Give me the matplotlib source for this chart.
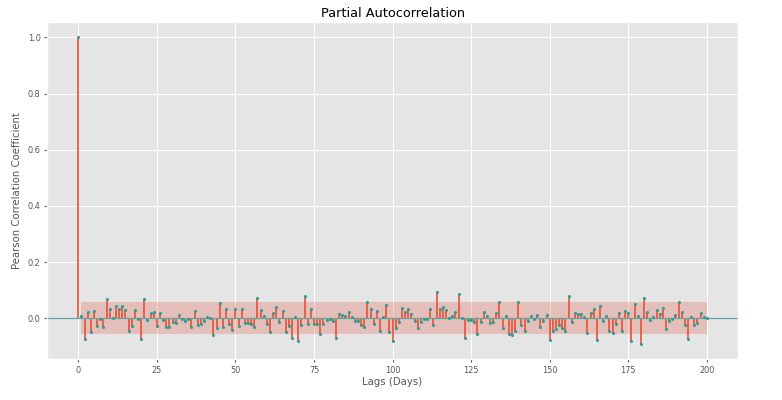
import numpy as np
import matplotlib
matplotlib.use('Agg')
import matplotlib.pyplot as plt

plt.style.use('ggplot')

# partial autocorrelation values, lags 0..200
pacf_vals = [
    1.000, 0.009, -0.073, 0.021, -0.050, 0.026, -0.028, -0.002, -0.032, 0.069,
    0.031, 0.001, 0.043, 0.033, 0.043, 0.030, -0.047, -0.028, 0.030, -0.002,
    -0.073, 0.069, -0.005, 0.019, 0.022, -0.029, 0.020, -0.005, -0.030, -0.032,
    -0.014, -0.018, 0.012, -0.002, -0.011, -0.004, -0.033, 0.027, -0.024, -0.019,
    -0.009, 0.005, 0.001, -0.061, -0.035, 0.054, -0.032, 0.031, -0.019, -0.042,
    0.032, -0.027, 0.033, -0.017, -0.017, -0.021, -0.033, 0.071, 0.030, 0.009,
    -0.019, -0.050, 0.020, 0.039, -0.012, 0.025, -0.050, -0.028, -0.071, 0.004,
    -0.080, -0.026, 0.079, -0.019, 0.031, -0.022, -0.022, -0.058, -0.022, -0.008,
    -0.004, -0.011, -0.071, 0.015, 0.012, 0.007, 0.021, 0.004, -0.011, -0.011,
    -0.026, -0.030, 0.057, 0.031, -0.021, 0.026, -0.045, 0.004, 0.048, -0.051,
    -0.082, -0.034, -0.014, 0.035, 0.021, 0.031, 0.014, -0.011, -0.034, -0.012,
    -0.002, -0.002, 0.031, -0.025, 0.093, 0.033, 0.039, 0.028, 0.001, 0.009,
    0.021, 0.085, 0.001, -0.069, -0.005, -0.005, -0.014, -0.056, -0.012, 0.021,
    0.008, -0.018, -0.012, 0.017, 0.059, -0.034, 0.008, -0.057, -0.059, -0.045,
    0.059, -0.026, -0.044, -0.011, 0.008, -0.002, 0.012, -0.030, -0.011, 0.012,
    -0.078, -0.046, -0.040, -0.026, -0.034, -0.045, 0.078, -0.014, 0.019, 0.015,
    0.015, 0.004, -0.052, 0.019, 0.033, -0.079, 0.043, -0.011, 0.007, -0.045,
    -0.053, -0.021, 0.018, -0.047, 0.024, 0.018, -0.083, 0.051, 0.009, -0.092,
    0.073, 0.021, -0.008, 0.005, 0.030, 0.014, 0.035, -0.038, -0.011, -0.004,
    0.013, 0.057, 0.021, -0.025, -0.073, 0.004, -0.024, -0.017, 0.017, 0.004,
    0.002,
]
lags = np.arange(len(pacf_vals))
conf_level = 0.056  # half-width of the 95% band

stem_color = '#EA4F36'
marker_color = '#2E9C96'

fig = plt.figure(figsize=(7.82, 4.0), dpi=100)
ax = fig.add_axes([0.060, 0.1017, 0.884, 0.843])

ax.vlines(lags, 0, pacf_vals, color=stem_color, lw=1.2)
ax.axhline(0, color='#5AA8A0', lw=0.9)
ax.plot(lags, pacf_vals, 'o', color=marker_color, markersize=1.2)
ax.margins(0.05)
ax.fill_between(lags[1:], -conf_level, conf_level, color='#E24A33', alpha=0.25, lw=0)

ax.set_title('Partial Autocorrelation', fontsize=9.3, pad=4)
ax.set_xlabel('Lags (Days)', fontsize=7.3, labelpad=2)
ax.set_ylabel('Pearson Correlation Coefficient', fontsize=7.3, labelpad=4)
ax.tick_params(labelsize=5.9, length=2.5, pad=2)

fig.savefig('out.png', dpi=100)
